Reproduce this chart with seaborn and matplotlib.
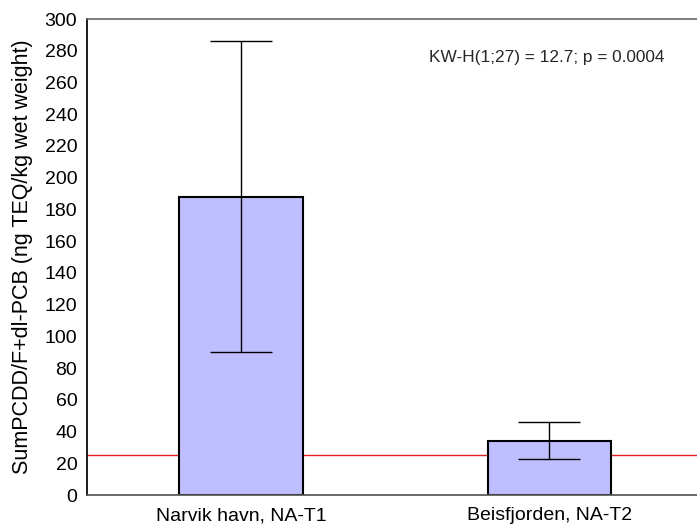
import numpy as np
import matplotlib
matplotlib.use("Agg")
import matplotlib.pyplot as plt
import seaborn as sns

categories = ["Narvik havn, NA-T1", "Beisfjorden, NA-T2"]
means = [188.0, 34.0]
upper = [286.0, 46.0]
lower = [90.0, 22.5]
reference_level = 25.0
yticks = list(range(0, 301, 20))
annotation = "KW-H(1;27) = 12.7; p = 0.0004"
ylabel = "SumPCDD/F+dl-PCB (ng TEQ/kg wet weight)"

sns.set_theme(style="white")
plt.rcParams['font.family'] = ['Liberation Sans', 'DejaVu Sans']

fig = plt.figure(figsize=(6.97, 5.24), dpi=100)
ax = fig.add_axes([87/697, 1-495/524, 1-87/697, (495-19)/524])

ax.axhline(reference_level, color="#e02020", lw=1.0, zorder=0)
sns.barplot(x=categories, y=means, color="#bfbfff", saturation=1, width=0.4,
            edgecolor="black", linewidth=1.5, ax=ax, zorder=2)
m = np.array(means)
ax.errorbar(np.arange(len(categories)), m,
            yerr=[m - np.array(lower), np.array(upper) - m],
            fmt="none", ecolor="black", elinewidth=1.0, capsize=22, capthick=1.0, zorder=3)

ax.set_xlim(-0.5, 1.48)
ax.set_ylim(0, 300)
ax.set_yticks(yticks)
ax.tick_params(axis="y", length=0, pad=7, labelsize=14, colors="black")
ax.tick_params(axis="x", direction="in", length=3, pad=9, labelsize=14, colors="black", width=1)
ax.set_ylabel(ylabel, fontsize=15.5, color="black", labelpad=8)
ax.set_xlabel("")
ax.spines["left"].set_color("black")
ax.spines["bottom"].set_color("#555555")
ax.spines["top"].set_color("#666666")
ax.spines["top"].set_linewidth(1.2)
ax.spines["right"].set_visible(False)
ax.text(0.946, 0.92, annotation, transform=ax.transAxes, ha="right", va="center", fontsize=12.4)

fig.savefig("out.png", dpi=100)
